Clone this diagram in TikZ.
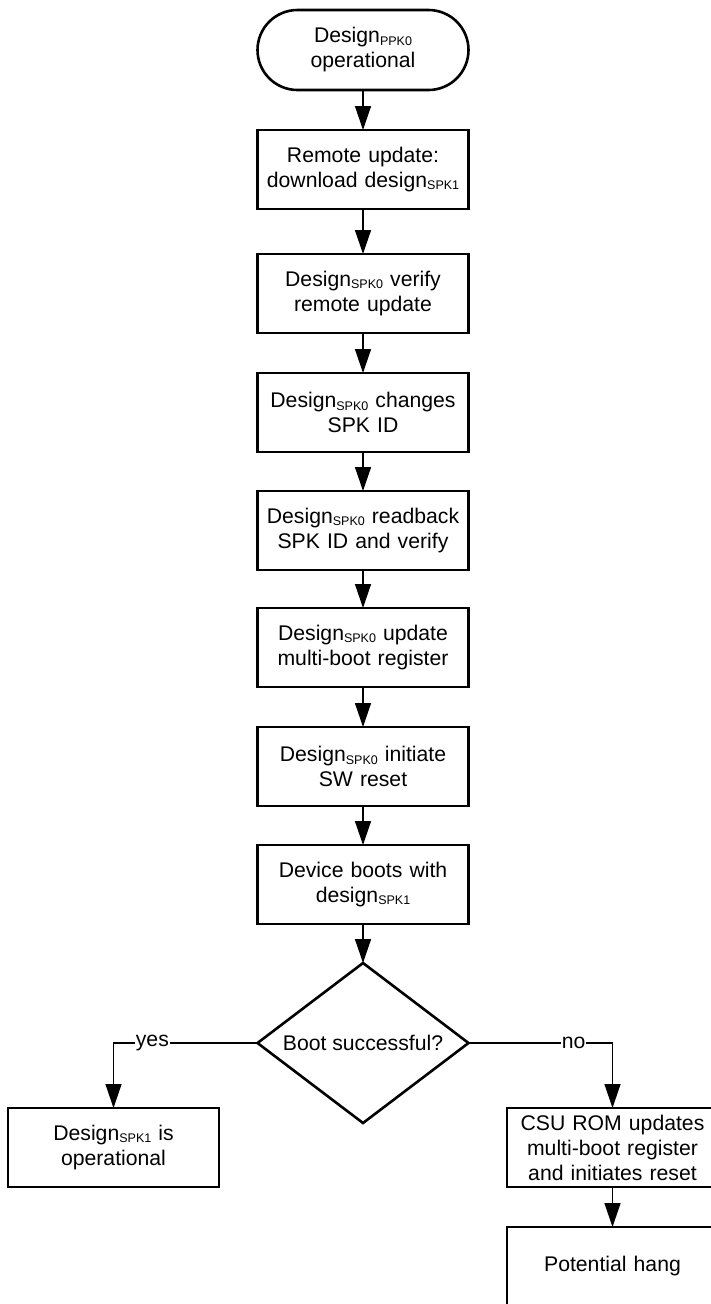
\documentclass[tikz,border=0pt]{standalone}
\usepackage{fontspec}
\setmainfont{Liberation Sans}
\usetikzlibrary{arrows.meta,positioning,shapes.geometric,calc}
\newcommand{\subtxt}[1]{\raisebox{-2.5pt}{\fontsize{12.5}{12.5}\selectfont #1}}

\begin{document}
\begin{tikzpicture}[font=\fontsize{21.2}{25}\selectfont,
  procbox/.style={draw,line width=2.6pt,text width=205pt,inner sep=3pt,align=center,minimum height=79pt,outer sep=0pt},
  termbox/.style={procbox,rounded corners=40pt,minimum height=80pt},
  decbox/.style={draw,line width=2.6pt,diamond,aspect=1.32,inner sep=0pt,minimum width=211pt,minimum height=160pt,outer sep=0pt},
  flow/.style={-{Triangle[width=16pt,length=24pt]},line width=1.4pt},
  branch/.style={fill=white,inner sep=1pt}]
\useasboundingbox (0,0) rectangle (710pt,-1304pt);
% main column
\node[termbox] (start) at (363pt,-50pt) {Design\subtxt{PPK0}\\operational};
\node[procbox,below=40pt of start] (dl) {Remote update:\\download design\subtxt{SPK1}};
\node[procbox,below=45pt of dl] (verify) {Design\subtxt{SPK0} verify\\remote update};
\node[procbox,below=40pt of verify] (chid) {Design\subtxt{SPK0} changes\\SPK ID};
\node[procbox,below=39pt of chid] (rdback) {Design\subtxt{SPK0} readback\\SPK ID and verify};
\node[procbox,below=38pt of rdback] (mbreg) {Design\subtxt{SPK0} update\\multi-boot register};
\node[procbox,below=40pt of mbreg] (swrst) {Design\subtxt{SPK0} initiate\\SW reset};
\node[procbox,below=39pt of swrst] (boot) {Device boots with\\design\subtxt{SPK1}};
\node[decbox,below=39pt of boot] (dec) {Boot successful?};
% branches
\node[procbox,anchor=north] (ok) at ($(dec.west)+(-144pt,-65pt)$) {Design\subtxt{SPK1} is\\operational};
\node[procbox,anchor=north] (csu) at ($(dec.east)+(144pt,-65pt)$) {CSU ROM updates\\multi-boot register\\and initiates reset};
\node[procbox,below=40pt of csu] (hang) {Potential hang};

\draw[flow] (start) -- (dl);
\draw[flow] (dl) -- (verify);
\draw[flow] (verify) -- (chid);
\draw[flow] (chid) -- (rdback);
\draw[flow] (rdback) -- (mbreg);
\draw[flow] (mbreg) -- (swrst);
\draw[flow] (swrst) -- (boot);
\draw[flow] (boot) -- (dec);
\draw[flow] (dec.west) -| node[branch,pos=0.365] {yes} (ok.north);
\draw[flow] (dec.east) -| node[branch,pos=0.365] {no} (csu.north);
\draw[flow] (csu) -- (hang);
\end{tikzpicture}
\end{document}
